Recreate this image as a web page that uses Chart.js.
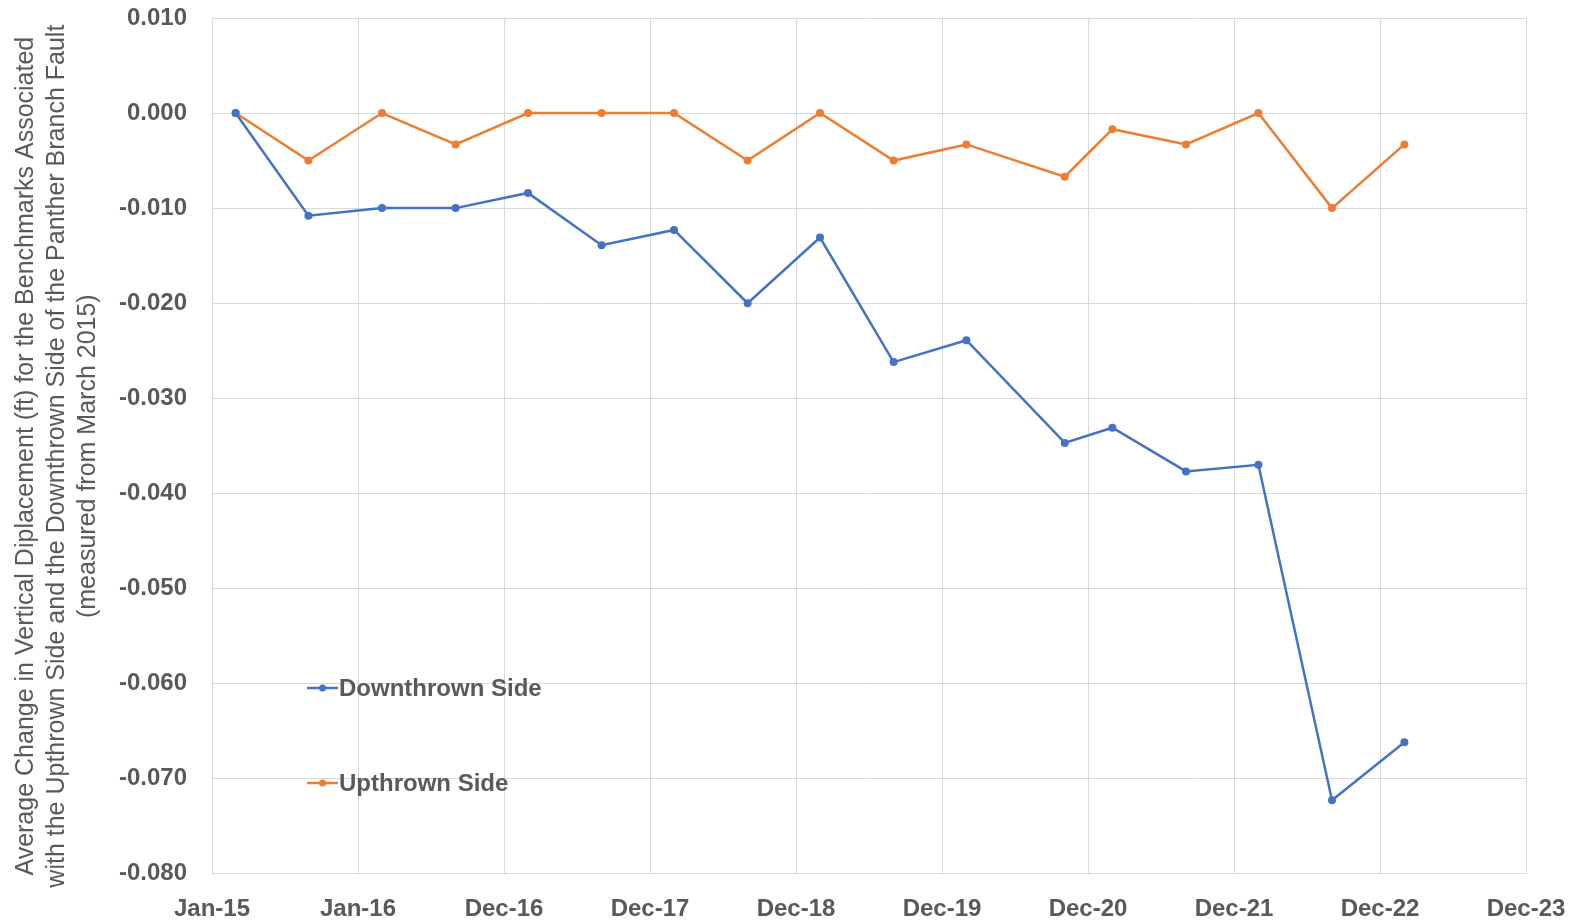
<!DOCTYPE html>
<html>
<head>
<meta charset="utf-8">
<script src="https://cdn.jsdelivr.net/npm/chart.js@4.4.1/dist/chart.umd.min.js"></script>
<style>
  html, body { margin: 0; padding: 0; background: #fff; }
  #wrap { width: 1578px; height: 924px; }
</style>
</head>
<body>
<div id="wrap"><canvas id="myChart" width="1578" height="924"></canvas></div>
<script>
// survey dates (x) and average displacement in ft (y)
var surveyDates = ["2015-03-01", "2015-08-30", "2016-03-01", "2016-09-01", "2017-03-01",
  "2017-09-01", "2018-03-01", "2018-09-01", "2019-03-01", "2019-09-01", "2020-03-01",
  "2020-11-02", "2021-03-01", "2021-09-01", "2022-03-01", "2022-09-01", "2023-03-01"];
var downthrown = [0, -0.0108, -0.0100, -0.0100, -0.0084, -0.0139, -0.0123, -0.0200, -0.0131,
  -0.0262, -0.0239, -0.0347, -0.0331, -0.0377, -0.0370, -0.0723, -0.0662];
var upthrown = [0, -0.0050, 0, -0.0033, 0, 0, 0, -0.0050, 0, -0.0050, -0.0033, -0.0067,
  -0.0017, -0.0033, 0, -0.0100, -0.0033];
var seriesNames = ["Downthrown Side", "Upthrown Side"];
var seriesColors = ["#4472C4", "#ED7D31"];
var axisStart = "2015-01-01";
var axisDays = 3285;   // to Dec-23
var tickDays = 365;
var yTitle = ["Average Change in Vertical Diplacement (ft) for the Benchmarks Associated",
  "with the Upthrown Side and the Downthrown Side of the Panther Branch Fault",
  "(measured from March 2015)"];

var monthNames = ["Jan", "Feb", "Mar", "Apr", "May", "Jun", "Jul", "Aug", "Sep", "Oct", "Nov", "Dec"];
var DAY = 86400000;
var t0 = Date.parse(axisStart + "T00:00:00Z");
var dayOf = function(s) {
  return Math.round((Date.parse(s + "T00:00:00Z") - t0) / DAY);
};
var pts = function(vals) {
  return vals.map(function(v, i) {
    return { x: dayOf(surveyDates[i]), y: v };
  });
};

var grey = "#595959";
var gridCol = "#D9D9D9";
var fontFam = "'Liberation Sans', Arial, sans-serif";

// legend drawn inside the plot, lower left
var innerLegend = {
  id: "innerLegend",
  afterDraw: function(chart) {
    var ctx = chart.ctx;
    var a = chart.chartArea;
    var rows = [a.top + 670, a.top + 765];
    ctx.save();
    ctx.font = "bold 24px " + fontFam;
    ctx.textBaseline = "middle";
    chart.data.datasets.forEach(function(ds, i) {
      var y = rows[i];
      var x0 = a.left + 95;
      ctx.strokeStyle = ds.borderColor;
      ctx.lineWidth = 2.5;
      ctx.beginPath();
      ctx.moveTo(x0, y);
      ctx.lineTo(x0 + 31, y);
      ctx.stroke();
      ctx.fillStyle = ds.borderColor;
      ctx.beginPath();
      ctx.arc(x0 + 15.5, y, 3.5, 0, Math.PI * 2);
      ctx.fill();
      ctx.fillStyle = grey;
      ctx.fillText(ds.label, x0 + 32, y + 1);
    });
    ctx.restore();
  }
};

var ctx = document.getElementById("myChart").getContext("2d");
var chart = new Chart(ctx, {
  type: "line",
  data: {
    datasets: [{
      label: seriesNames[0],
      data: pts(downthrown),
      borderColor: seriesColors[0],
      backgroundColor: seriesColors[0],
      borderWidth: 2.5,
      pointRadius: 4,
      pointBorderWidth: 0,
      tension: 0
    }, {
      label: seriesNames[1],
      data: pts(upthrown),
      borderColor: seriesColors[1],
      backgroundColor: seriesColors[1],
      borderWidth: 2.5,
      pointRadius: 4,
      pointBorderWidth: 0,
      tension: 0
    }]
  },
  options: {
    responsive: false,
    animation: false,
    layout: { padding: { top: 18, right: 52, left: 0, bottom: 0 } },
    plugins: {
      legend: { display: false },
      tooltip: { enabled: false }
    },
    scales: {
      x: {
        type: "linear",
        min: 0,
        max: axisDays,
        afterBuildTicks: function(scale) {
          var t = [];
          for (var d = 0; d <= axisDays; d += tickDays) t.push({ value: d });
          scale.ticks = t;
        },
        afterFit: function(scale) {
          scale.height = 50.5;
          scale.paddingLeft = 0;
          scale.paddingRight = 0;
        },
        grid: { color: gridCol, drawTicks: false },
        border: { color: gridCol },
        ticks: {
          autoSkip: false,
          maxRotation: 0,
          padding: 21,
          color: grey,
          font: { family: fontFam, size: 24, weight: "bold" },
          callback: function(v) {
            var d = new Date(t0 + v * DAY);
            return monthNames[d.getUTCMonth()] + "-" + String(d.getUTCFullYear()).slice(2);
          }
        }
      },
      y: {
        min: -0.08,
        max: 0.01,
        afterFit: function(scale) {
          scale.width = 212;
          scale.paddingTop = 0;
          scale.paddingBottom = 0;
        },
        grid: { color: gridCol, drawTicks: false },
        border: { color: gridCol },
        ticks: {
          stepSize: 0.01,
          padding: 25,
          color: grey,
          font: { family: fontFam, size: 24, weight: "bold" },
          callback: function(v) { return v.toFixed(3); }
        },
        title: {
          display: true,
          // trailing nbsp nudges the rotated title a little lower, like the original
          text: yTitle.map(function(s) { return s + "\u00a0\u00a0\u00a0"; }),
          color: grey,
          padding: { top: 11, bottom: 0 },
          font: { family: fontFam, size: 25, lineHeight: 1.24 }
        }
      }
    }
  },
  plugins: [innerLegend]
});
</script>
</body>
</html>
